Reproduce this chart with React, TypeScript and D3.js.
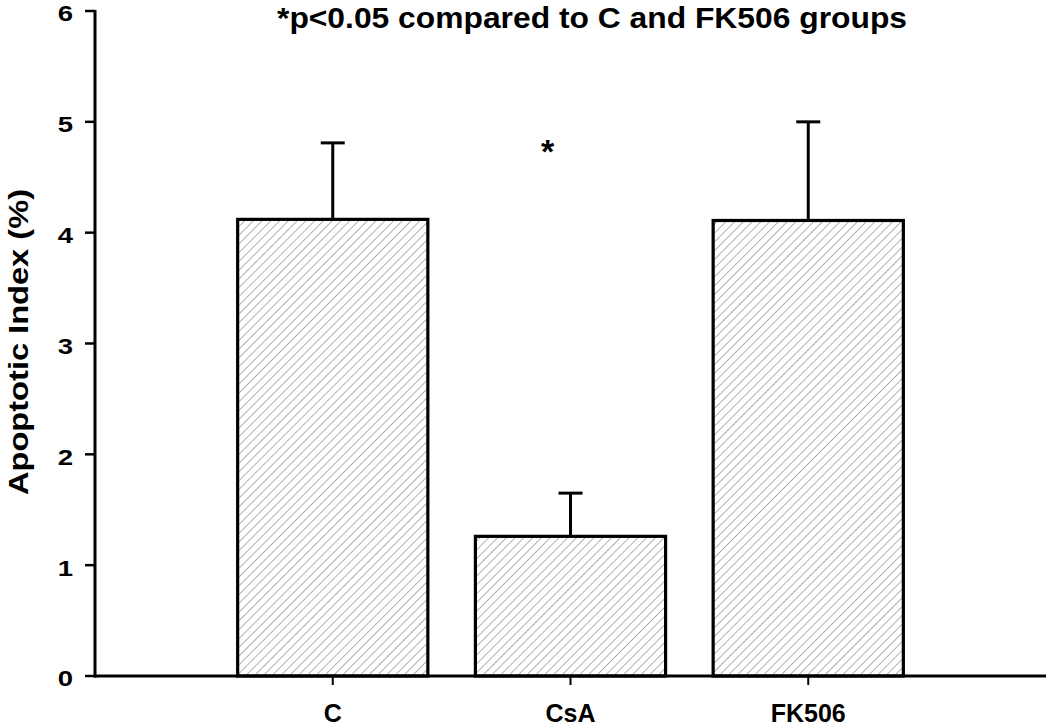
import React from "react";
import * as d3 from "d3";

const categories = ["C", "CsA", "FK506"];
const means = [4.12, 1.26, 4.11];
const errors = [0.69, 0.39, 0.89];
const yTicks = [0, 1, 2, 3, 4, 5, 6];
const title = "*p<0.05 compared to C and FK506 groups";
const yLabel = "Apoptotic Index (%)";
const sigCategory = "CsA";
const sigValue = 4.77;

const W = 1050;
const H = 726;
const FONT = "'Liberation Sans', Arial, Helvetica, sans-serif";

export default function App() {
  const x = d3
    .scaleBand<string>()
    .domain(categories)
    .range([95, 1046])
    .paddingInner(0.2)
    .paddingOuter(0.6);
  const y = d3.scaleLinear().domain([0, 6]).range([676, 11]);
  const bw = x.bandwidth();

  return (
    <svg
      width={W}
      height={H}
      style={{ position: "absolute", left: 0, top: 0, background: "#fff" }}
      fontFamily={FONT}
      fontWeight="bold"
    >
      <defs>
        <pattern
          id="hatch"
          width={6.2}
          height={6.2}
          patternUnits="userSpaceOnUse"
          patternTransform="rotate(45)"
        >
          <rect width={6.2} height={6.2} fill="#fff" />
          <line x1={0} y1={0} x2={0} y2={6.2} stroke="#8a8a8a" strokeWidth={1.3} />
        </pattern>
      </defs>

      {/* bars */}
      {categories.map((c, i) => (
        <g key={c}>
          <line
            x1={x(c)! + bw / 2}
            x2={x(c)! + bw / 2}
            y1={y(means[i])}
            y2={y(means[i] + errors[i])}
            stroke="#000"
            strokeWidth={3}
          />
          <line
            x1={x(c)! + bw / 2 - 12}
            x2={x(c)! + bw / 2 + 12}
            y1={y(means[i] + errors[i])}
            y2={y(means[i] + errors[i])}
            stroke="#000"
            strokeWidth={3}
          />
          <rect
            x={x(c)!}
            y={y(means[i])}
            width={bw}
            height={y(0) - y(means[i])}
            fill="url(#hatch)"
            stroke="#000"
            strokeWidth={3.2}
          />
        </g>
      ))}

      {/* y axis */}
      <line x1={95} x2={95} y1={y(6) - 1} y2={y(0) + 1.5} stroke="#000" strokeWidth={3} />
      {yTicks.map((t) => (
        <g key={t}>
          <line x1={85} x2={95} y1={y(t)} y2={y(t)} stroke="#000" strokeWidth={2.5} />
          <text
            transform={`translate(73, ${y(t) + 2.5}) scale(1.25, 1)`}
            textAnchor="end"
            dominantBaseline="central"
            fontSize={22}
            fill="#000"
          >
            {t}
          </text>
        </g>
      ))}

      {/* x axis */}
      <line x1={94} x2={1046} y1={y(0)} y2={y(0)} stroke="#000" strokeWidth={3} />
      {categories.map((c) => (
        <g key={c}>
          <line
            x1={x(c)! + bw / 2}
            x2={x(c)! + bw / 2}
            y1={y(0)}
            y2={y(0) + 9}
            stroke="#000"
            strokeWidth={2}
          />
          <text x={x(c)! + bw / 2} y={722} textAnchor="middle" fontSize={25} fill="#000">
            {c}
          </text>
        </g>
      ))}

      {/* significance */}
      <text
        x={x(sigCategory)! + bw / 2 - 23}
        y={y(sigValue) + 16}
        textAnchor="middle"
        fontSize={34}
        fill="#000"
      >
        *
      </text>

      {/* title */}
      <text
        x={592}
        y={28}
        textAnchor="middle"
        fontSize={29}
        fill="#000"
        textLength={630}
        lengthAdjust="spacingAndGlyphs"
      >
        {title}
      </text>

      {/* y label */}
      <text
        transform={`translate(28, ${342}) rotate(-90)`}
        textAnchor="middle"
        fontSize={28}
        fill="#000"
        textLength={306}
        lengthAdjust="spacingAndGlyphs"
      >
        {yLabel}
      </text>
    </svg>
  );
}
